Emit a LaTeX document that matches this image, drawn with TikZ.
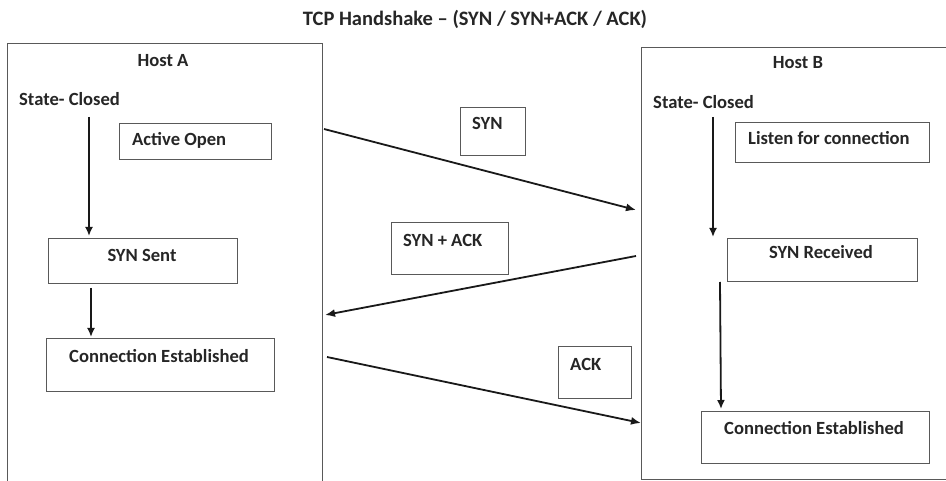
\documentclass[tikz,border=0pt]{standalone}
\usepackage{fontspec}
\setmainfont{Carlito}
\usetikzlibrary{arrows.meta}
\begin{document}
\begin{tikzpicture}[x=1pt,y=-1pt,
  frame/.style={draw=black!65,line width=1.3pt,inner sep=0pt,anchor=north west},
  lbl/.style={font=\fontsize{18.6}{21}\selectfont\bfseries,text=black!85,inner sep=0pt},
  flow/.style={draw=black!90,line width=1.8pt,-{Latex[length=9pt,width=8pt]}},
  msg/.style={draw=black!90,line width=1.8pt,-{Latex[length=10pt,width=8pt]}}]
\useasboundingbox (0,0) rectangle (946,481);
\clip (0,0) rectangle (946,481);
\fill[white] (0,0) rectangle (946,481);
% title
\node[lbl,font=\fontsize{20.5}{23}\selectfont\bfseries] (title) at (475,19) {TCP Handshake – (SYN / SYN+ACK / ACK)};
% hosts
\node[frame,minimum width=315pt,minimum height=450pt] (hostA) at (7,43) {};
\node[frame,minimum width=320pt,minimum height=432pt] (hostB) at (641,47) {};
\node[lbl] (hA) at (163,61) {Host A};
\node[lbl] (hB) at (798,63) {Host B};
% host A
\node[lbl,anchor=west] (scA) at (19,99) {State- Closed};
\node[frame,minimum width=152pt,minimum height=36pt] (ao) at (119,123) {};
\node[lbl,anchor=west] (aoT) at (132,140) {Active Open};
\node[frame,minimum width=189pt,minimum height=45pt] (ss) at (48,238) {};
\node[lbl] (ssT) at (142,255) {SYN Sent};
\node[frame,minimum width=228pt,minimum height=53pt] (ceA) at (46,338) {};
\node[lbl] (ceAT) at (159,356) {Connection Established};
% host B
\node[lbl,anchor=west] (scB) at (653,102) {State- Closed};
\node[frame,minimum width=194pt,minimum height=40pt] (lc) at (735,122) {};
\node[lbl,anchor=west] (lcT) at (748,138) {Listen for connection};
\node[frame,minimum width=190pt,minimum height=43pt] (sr) at (727,238) {};
\node[lbl] (srT) at (821,252) {SYN Received};
\node[frame,minimum width=228pt,minimum height=52pt] (ceB) at (701,411) {};
\node[lbl] (ceBT) at (814,428) {Connection Established};
% message boxes
\node[frame,minimum width=65pt,minimum height=48pt] (synB) at (460,107) {};
\node[lbl,anchor=west] (synT) at (472,123) {SYN};
\node[frame,minimum width=117pt,minimum height=52pt] (saB) at (391,222) {};
\node[lbl,anchor=west] (saT) at (403,240) {SYN + ACK};
\node[frame,minimum width=73pt,minimum height=52pt] (ackB) at (558,346) {};
\node[lbl,anchor=west] (ackT) at (570,364) {ACK};
% connector end points
\coordinate (a1s) at (89,117);  \coordinate (a1e) at (89,236);
\coordinate (a2s) at (91,288);  \coordinate (a2e) at (91,337);
\coordinate (b1s) at (713,117); \coordinate (b1e) at (713,237);
\coordinate (b2s) at (720,282); \coordinate (b2e) at (721,409);
\coordinate (m1s) at (324,129); \coordinate (m1e) at (636,210);
\coordinate (m2s) at (636,256); \coordinate (m2e) at (325,315);
\coordinate (m3s) at (327,357); \coordinate (m3e) at (641,423);
\draw[flow] (a1s) -- (a1e);
\draw[flow] (a2s) -- (a2e);
\draw[flow] (b1s) -- (b1e);
\draw[flow] (b2s) -- (b2e);
\draw[msg] (m1s) -- (m1e);
\draw[msg] (m2s) -- (m2e);
\draw[msg] (m3s) -- (m3e);
\end{tikzpicture}
\end{document}
